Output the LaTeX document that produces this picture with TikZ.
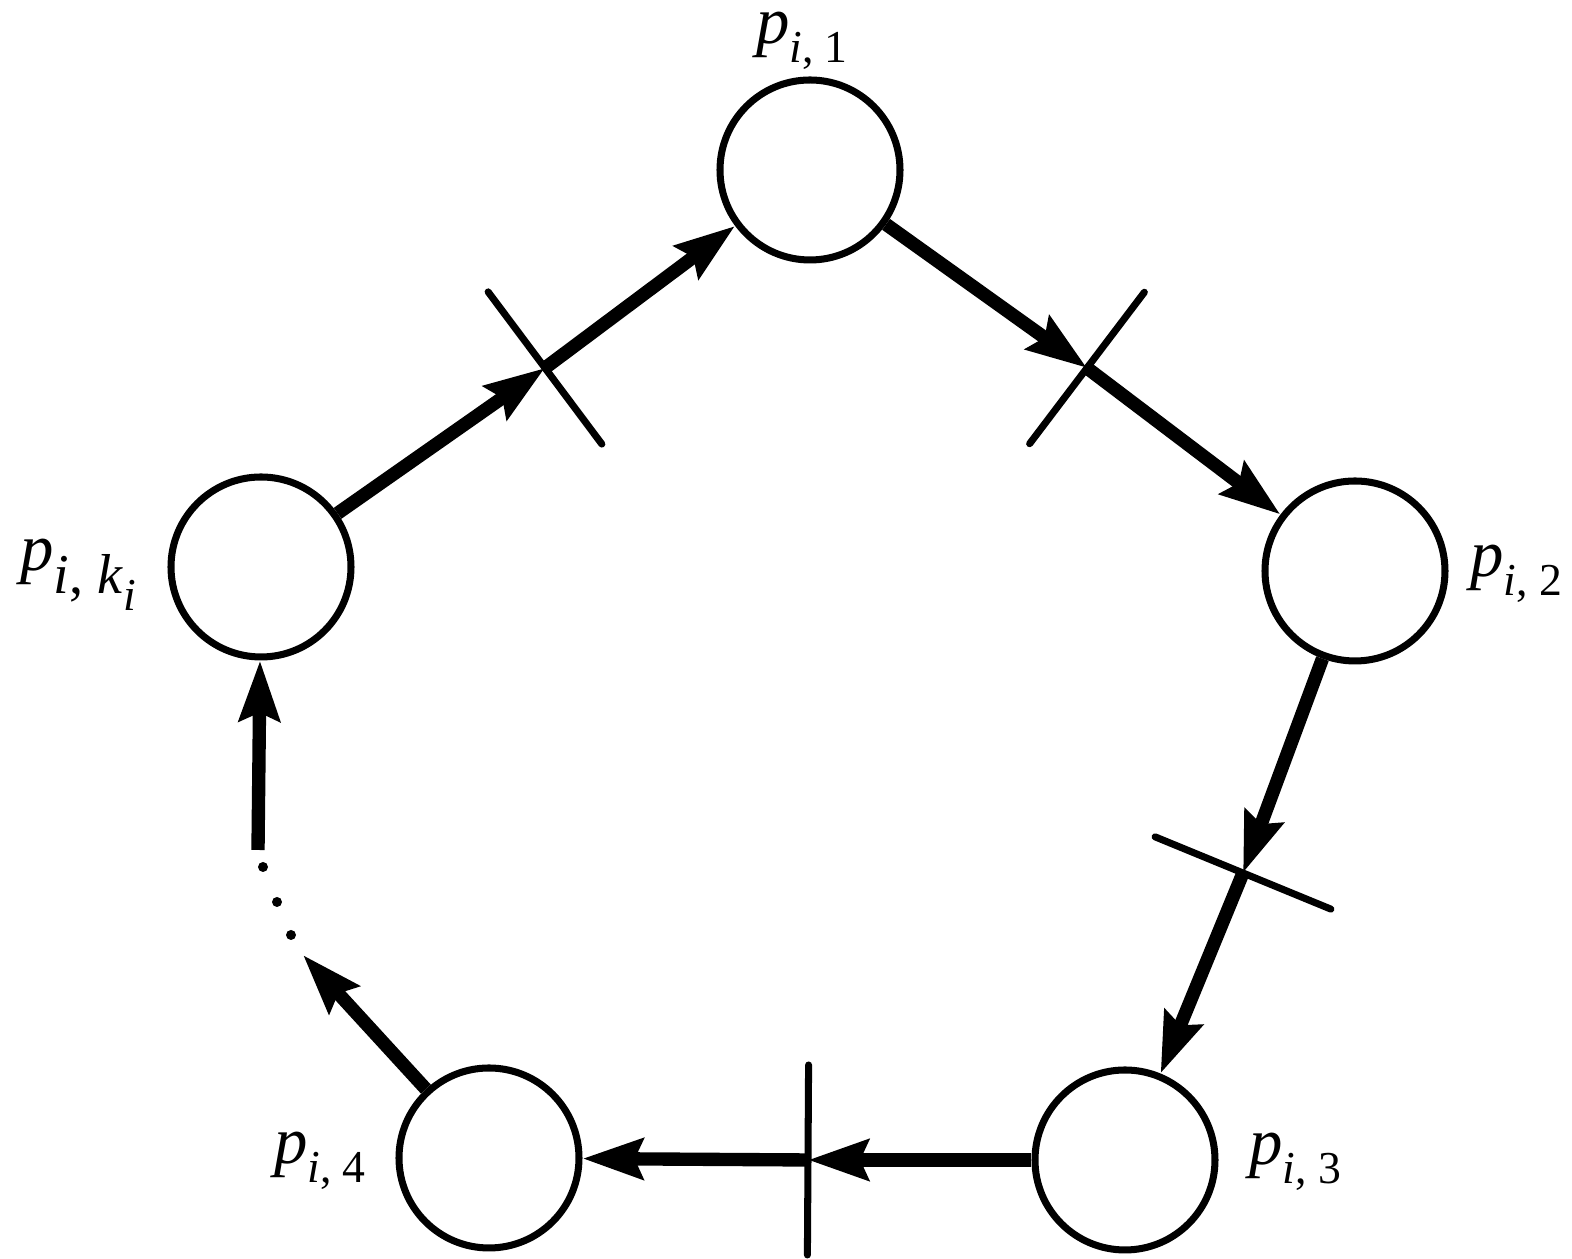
\documentclass[tikz,border=0pt]{standalone}
\usepackage{fontspec}
\setmainfont{Liberation Serif}
\usetikzlibrary{arrows.meta, calc}

\newcommand{\subsz}{\fontsize{13}{15}\selectfont}
\newcommand{\pname}[1]{\textit{p}\raisebox{-5.4pt}{\subsz\textit{i}, #1}}

\begin{document}
\begin{tikzpicture}[
    place/.style={circle, draw, line width=2pt, minimum size=1.8cm, inner sep=0pt},
    edge/.style={line width=3.8pt, -{Stealth[length=6mm, width=4mm, inset=0.8mm]}},
    tick/.style={line width=2pt, line cap=round},
    lbl/.style={font=\fontsize{19}{21}\selectfont, inner sep=0pt}]
    \useasboundingbox (0,0) rectangle (15.72,12.59);

    % places
    \node[place] (n1) at (8.10, 10.89) {};
    \node[place] (n2) at (13.55, 6.88) {};
    \node[place] (n3) at (11.25, 0.99) {};
    \node[place] (n4) at (4.89, 1.01) {};
    \node[place] (nk) at (2.61, 6.92) {};

    % labels
    \node[lbl] (l1) at (8.02, 12.18) {\pname{1}};
    \node[lbl] (l2) at (15.16, 6.85) {\pname{2}};
    \node[lbl] (l3) at (12.95, 0.97) {\pname{3}};
    \node[lbl] (l4) at (3.20, 0.98) {\pname{4}};
    \node[lbl] (lk) at (0.78, 6.84) {\textit{p}\raisebox{-6.5pt}{\fontsize{16}{18}\selectfont\textit{i}, \textit{k}\raisebox{-5pt}{\subsz\textit{i}}}};

    % crossing points
    \coordinate (c1) at (5.45, 8.91);
    \coordinate (c2) at (10.87, 8.91);
    \coordinate (c3) at (12.43, 3.86);
    \coordinate (c4) at (8.08, 0.99);

    % arcs
    \draw[edge] (nk) -- (c1);
    \draw[edge] (c1) -- (n1);
    \draw[edge] (n1) -- (c2);
    \draw[edge] (c2) -- (n2);
    \draw[edge] (n2) -- (c3);
    \draw[edge] (c3) -- (n3);
    \draw[edge] (n3) -- (c4);
    \draw[edge] (c4) -- (n4);

    % transitions
    \draw[tick] ($(c1)!0.95cm!90:(n1)$) -- ($(c1)!0.95cm!-90:(n1)$);
    \draw[tick] ($(c2)!0.95cm!90:(n2)$) -- ($(c2)!0.95cm!-90:(n2)$);
    \draw[tick] ($(c3)!0.95cm!90:(n3)$) -- ($(c3)!0.95cm!-90:(n3)$);
    \draw[tick] ($(c4)!0.95cm!90:(n4)$) -- ($(c4)!0.95cm!-90:(n4)$);

    % gap
    \coordinate (g1) at (3.03, 3.04);
    \coordinate (g2) at (2.58, 4.09);
    \draw[edge] (n4) -- (g1);
    \draw[edge] (g2) -- (nk);
    \foreach \x/\y in {2.63/3.92, 2.77/3.57, 2.91/3.24}
        \fill (\x,\y) circle (0.05);
\end{tikzpicture}
\end{document}
